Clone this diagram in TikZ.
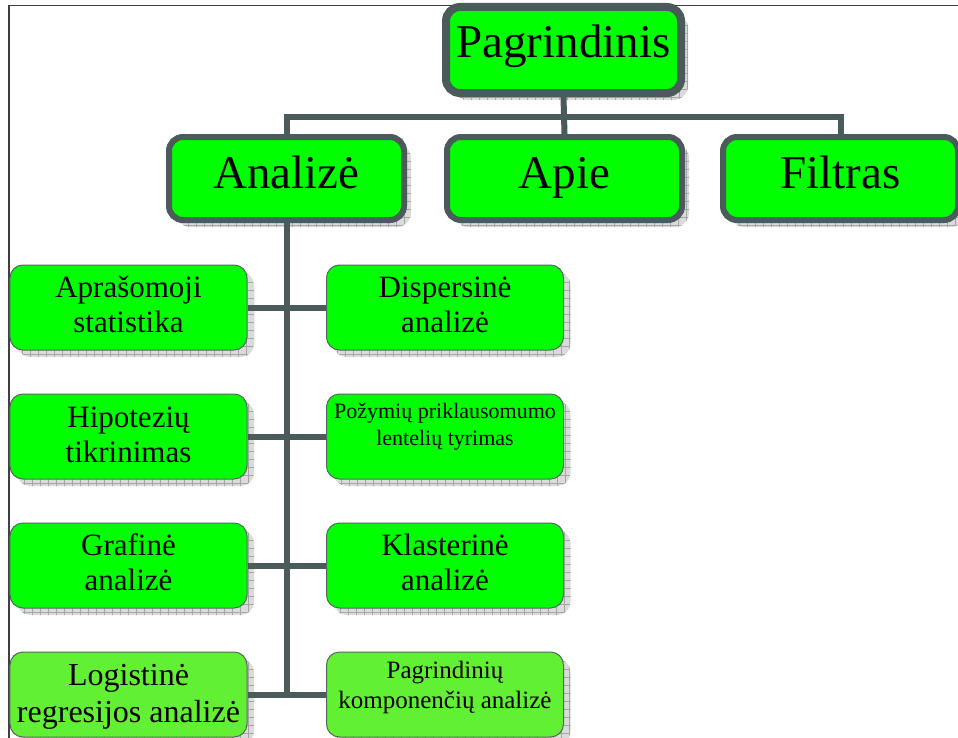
\documentclass[tikz,border=0pt]{standalone}
\usepackage{fontspec}
\setmainfont{Liberation Serif}
\usetikzlibrary{shadows}
\definecolor{slate}{HTML}{4B5A5A}
\definecolor{brightgreen}{HTML}{00FF00}
\definecolor{lightgreen}{HTML}{62F034}
\definecolor{thinborder}{HTML}{5A6464}
\newcommand{\liftedtext}[2]{\raisebox{#1}[0pt][0pt]{#2}}
\newcommand{\twolines}[3]{\raisebox{#1}[0pt][0pt]{\begin{tabular}[t]{@{}c@{}}#2\\#3\end{tabular}}}
\tikzset{
  gshadow/.style={drop shadow={shadow xshift=7bp, shadow yshift=-7bp, fill=gray!28, opacity=1,
    path picture={\draw[gray!70, line width=0.5bp]
      ([xshift=-40bp,yshift=-40bp]path picture bounding box.south west) grid[step=8bp]
      ([xshift=40bp,yshift=40bp]path picture bounding box.north east);}}},
  bigbox/.style={draw=slate, line width=6bp, rounded corners=14bp, fill=brightgreen,
    minimum width=235bp, minimum height=83bp, inner sep=0pt, gshadow,
    font=\fontsize{47bp}{50bp}\selectfont},
  smallbox/.style={draw=thinborder, line width=1bp, rounded corners=13bp, fill=brightgreen,
    minimum width=237bp, minimum height=85bp, inner sep=0pt, gshadow,
    font=\fontsize{31bp}{35bp}\selectfont},
  conn/.style={draw=slate, line width=6bp},
  frameline/.style={draw=black!75, line width=1.5bp}
}
\begin{document}
\begin{tikzpicture}[x=1bp,y=-1bp]
\useasboundingbox (0,0) rectangle (958,738);
\draw[frameline] (9,738) -- (9,5.5) -- (958,5.5);

% top level
\node[bigbox, line width=8bp, minimum height=86bp] (top) at (563.5,50) {\liftedtext{-8bp}{Pagrindinis}};
\node[bigbox] (analize) at (286.5,178.5) {\liftedtext{-9.5bp}{Analizė}};
\node[bigbox] (apie) at (564.5,178.5) {\liftedtext{-9.5bp}{Apie}};
\node[bigbox] (filtras) at (840.5,178.5) {\liftedtext{-9.5bp}{Filtras}};

% second level
\node[smallbox] (l1) at (128.5,307.5) {\twolines{10.5bp}{Aprašomoji}{statistika}};
\node[smallbox] (r1) at (445,307.5) {\twolines{10.5bp}{Dispersinė}{analizė}};
\node[smallbox] (l2) at (128.5,436.5) {\twolines{9.5bp}{Hipotezių}{tikrinimas}};
\node[smallbox, font=\fontsize{22bp}{27bp}\selectfont] (r2) at (445,436.5) {\twolines{18.5bp}{Požymių priklausomumo}{lentelių tyrimas}};
\node[smallbox] (l3) at (128.5,565.5) {\twolines{10.5bp}{Grafinė}{analizė}};
\node[smallbox] (r3) at (445,565.5) {\twolines{10.5bp}{Klasterinė}{analizė}};
\node[smallbox, fill=lightgreen, font=\fontsize{32bp}{37bp}\selectfont] (l4) at (128.5,694.5) {\twolines{9.5bp}{Logistinė}{regresijos analizė}};
\node[smallbox, fill=lightgreen, font=\fontsize{25bp}{30bp}\selectfont] (r4) at (445,694.5) {\twolines{16.5bp}{Pagrindinių}{komponenčių analizė}};

% connectors
\coordinate (hub) at (564,117);
\coordinate (trunkend) at (286.5,694.5);
\draw[conn] (analize.north) |- (hub) -| (filtras.north);
\draw[conn] (top.south) -- (apie.north);
\draw[conn] (analize.south) -- (trunkend);
\draw[conn] (l1.east) -- (l1.east -| trunkend);
\draw[conn] (r1.west) -- (r1.west -| trunkend);
\draw[conn] (l2.east) -- (l2.east -| trunkend);
\draw[conn] (r2.west) -- (r2.west -| trunkend);
\draw[conn] (l3.east) -- (l3.east -| trunkend);
\draw[conn] (r3.west) -- (r3.west -| trunkend);
\draw[conn] (l4.east) -- (trunkend);
\draw[conn] (r4.west) -- (r4.west -| trunkend);
\end{tikzpicture}
\end{document}
